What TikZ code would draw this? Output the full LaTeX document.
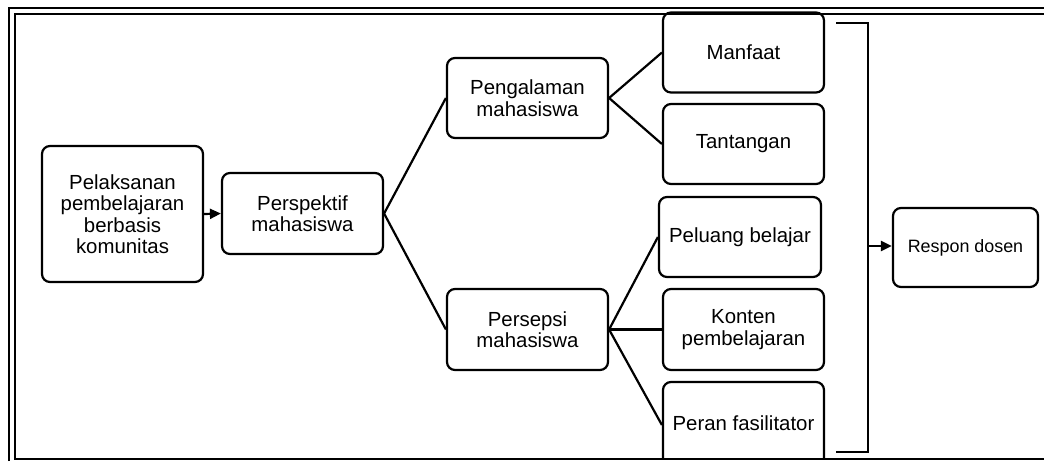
\documentclass[tikz,border=0pt]{standalone}
\usepackage{fontspec}
\setmainfont{Liberation Sans}
\usetikzlibrary{arrows.meta}
\begin{document}
\begin{tikzpicture}[x=1pt,y=-1pt,
  box/.style={draw,line width=2.2pt,rounded corners=8pt,align=center,inner sep=0pt,
    font=\fontsize{20.4}{21.5}\selectfont},
  link/.style={line width=2.2pt},
  arr/.style={line width=2.2pt,-{Triangle[length=11pt,width=10pt]}},
  frame/.style={line width=2.6pt}]
\useasboundingbox (0,0) rectangle (1044,461);
\node[box,minimum width=161pt,minimum height=136pt] (pel) at (122.5,214) {Pelaksanan\\pembelajaran\\berbasis\\komunitas};
\node[box,minimum width=161pt,minimum height=81pt] (per) at (302.5,213.5) {Perspektif\\mahasiswa};
\node[box,minimum width=161pt,minimum height=80pt] (pen) at (527.5,98) {Pengalaman\\mahasiswa};
\node[box,minimum width=161pt,minimum height=81pt] (pes) at (527.5,329.5) {Persepsi\\mahasiswa};
\node[box,minimum width=161pt,minimum height=80pt] (man) at (743.5,52.5) {Manfaat};
\node[box,minimum width=161pt,minimum height=80pt] (tan) at (743.5,144) {Tantangan};
\node[box,minimum width=162pt,minimum height=80pt] (plu) at (740,237) {Peluang belajar};
\node[box,minimum width=161pt,minimum height=81pt] (kon) at (743.5,329.5) {Konten\\pembelajaran};
\node[box,minimum width=161pt,minimum height=86pt] (prn) at (743.5,425) {\raisebox{3pt}{Peran fasilitator}};
\node[box,minimum width=145pt,minimum height=79pt,font=\fontsize{17.9}{20}\selectfont] (res) at (965.5,247.5) {Respon dosen};
\coordinate (bt) at (836,23);
\coordinate (bb) at (836,452);
\coordinate (bm) at (868,246);
\fill[white] (0,459) rectangle (1044,470);
\draw[frame] (9,461) -- (9,8) -- (1044,8);
\draw[frame] (1044,459) -- (15,459) -- (15,14) -- (1044,14);
\draw[arr] (pel.east) -- (per.west);
\draw[link] (per.east) -- (pen.west);
\draw[link] (per.east) -- (pes.west);
\draw[link] (pen.east) -- (man.west);
\draw[link] (pen.east) -- (tan.west);
\draw[link] (pes.east) -- (plu.west);
\draw[link] (pes.east) -- (kon.west);
\draw[link] (pes.east) -- (prn.west);
\draw[link] (bt) -- (bt -| bm) -- (bb -| bm) -- (bb);
\draw[arr] (bm) -- (bm -| res.west);
\end{tikzpicture}
\end{document}
